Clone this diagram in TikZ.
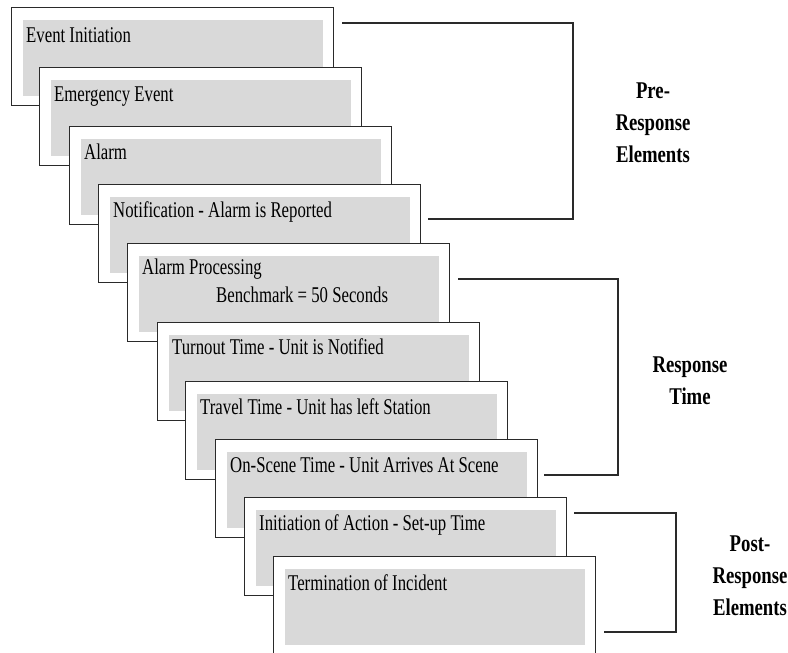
\documentclass[tikz,border=0pt]{standalone}
\usepackage{fontspec}
\setmainfont{Liberation Serif}
\definecolor{cardline}{HTML}{2A2A2A}
\definecolor{cardfill}{HTML}{D9D9D9}
\newcommand{\narrowtxt}[1]{\scalebox{0.745}[1]{#1}}
\newcommand{\narrowlab}[1]{\scalebox{0.78}[1]{#1}}
\begin{document}
\begin{tikzpicture}[x=1pt,y=-1pt,
 card/.style={draw=cardline, line width=1.4pt, fill=white, minimum width=322pt, minimum height=98pt, inner sep=0pt, anchor=north west,
   path picture={\fill[cardfill] ([xshift=11pt,yshift=-12pt]path picture bounding box.north west) rectangle ([xshift=-11pt,yshift=10pt]path picture bounding box.south east);}},
 cardtext/.style={anchor=base west, inner sep=0pt, font=\rmfamily\fontsize{22.5}{24}\selectfont, text=black},
 lab/.style={anchor=north, inner sep=0pt, align=center, font=\rmfamily\bfseries\fontsize{24}{32}\selectfont, text=black},
 brk/.style={draw=cardline, line width=1.2pt}
]
\useasboundingbox (0,0) rectangle (788,653);
\clip (0,0) rectangle (788,653);

\node[card] (c1) at (11,7) {};
\node[cardtext] (t1) at ([xshift=15pt,yshift=-35pt]c1.north west) {\narrowtxt{Event Initiation}};
\node[card] (c2) at (39,67) {};
\node[cardtext] (t2) at ([xshift=15pt,yshift=-34pt]c2.north west) {\narrowtxt{Emergency Event}};
\node[card] (c3) at (69,126) {};
\node[cardtext] (t3) at ([xshift=15pt,yshift=-33pt]c3.north west) {\narrowtxt{Alarm}};
\node[card] (c4) at (98,184) {};
\node[cardtext] (t4) at ([xshift=15pt,yshift=-33pt]c4.north west) {\narrowtxt{Notification - Alarm is Reported}};
\node[card] (c5) at (127,243) {};
\node[cardtext] (t5) at ([xshift=15pt,yshift=-31pt]c5.north west) {\narrowtxt{Alarm Processing}};
\node[cardtext] (t5b) at ([xshift=89pt,yshift=-59pt]c5.north west) {\narrowtxt{Benchmark = 50 Seconds}};
\node[card] (c6) at (157,322) {};
\node[cardtext] (t6) at ([xshift=15pt,yshift=-32pt]c6.north west) {\narrowtxt{Turnout Time - Unit is Notified}};
\node[card] (c7) at (185,381) {};
\node[cardtext] (t7) at ([xshift=15pt,yshift=-33pt]c7.north west) {\narrowtxt{Travel Time - Unit has left Station}};
\node[card] (c8) at (215,439) {};
\node[cardtext] (t8) at ([xshift=15pt,yshift=-33pt]c8.north west) {\narrowtxt{On-Scene Time - Unit Arrives At Scene}};
\node[card] (c9) at (244,497) {};
\node[cardtext] (t9) at ([xshift=15pt,yshift=-33pt]c9.north west) {\narrowtxt{Initiation of Action - Set-up Time}};
\node[card] (c10) at (273,556) {};
\node[cardtext] (t10) at ([xshift=15pt,yshift=-34pt]c10.north west) {\narrowtxt{Termination of Incident}};

% bracket labels
\node[lab] (pre) at (653,83) {\narrowlab{Pre-}\\\narrowlab{Response}\\\narrowlab{Elements}};
\node[lab] (resp) at (690,357) {\narrowlab{Response}\\\narrowlab{Time}};
\node[lab] (post) at (750,536) {\narrowlab{Post-}\\\narrowlab{Response}\\\narrowlab{Elements}};

% bracket ends
\coordinate (preA) at ([xshift=8pt,yshift=-16pt]c1.north east);
\coordinate (preB) at ([xshift=7pt,yshift=-35pt]c4.north east);
\coordinate (preX) at (573,0);
\coordinate (resA) at ([xshift=8pt,yshift=-36pt]c5.north east);
\coordinate (resB) at ([xshift=6pt,yshift=-36pt]c8.north east);
\coordinate (resX) at (618,0);
\coordinate (posA) at ([xshift=7pt,yshift=-16pt]c9.north east);
\coordinate (posB) at ([xshift=8pt,yshift=-76pt]c10.north east);
\coordinate (posX) at (676,0);

\draw[brk] (preA) -- (preA -| preX) -- (preB -| preX) -- (preB);
\draw[brk] (resA) -- (resA -| resX) -- (resB -| resX) -- (resB);
\draw[brk] (posA) -- (posA -| posX) -- (posB -| posX) -- (posB);
\end{tikzpicture}
\end{document}
